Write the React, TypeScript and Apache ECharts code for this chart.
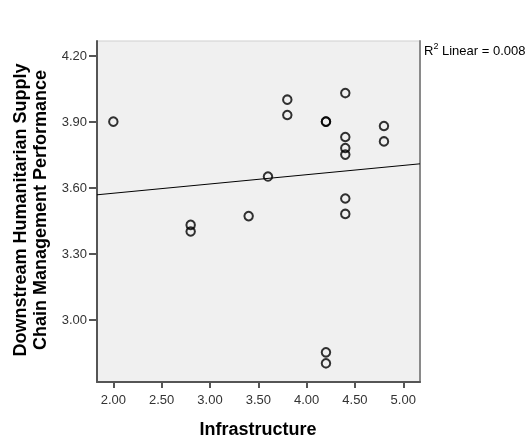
import React, { useEffect, useRef } from "react";
import * as echarts from "echarts";

// Data
const infrastructure = [2.0, 2.8, 2.8, 3.4, 3.6, 3.8, 3.8, 4.2, 4.2, 4.4, 4.4, 4.4, 4.4, 4.4, 4.4, 4.8, 4.8, 4.2, 4.2];
const performance = [3.9, 3.43, 3.4, 3.47, 3.65, 4.0, 3.93, 3.9, 3.9, 4.03, 3.83, 3.78, 3.75, 3.55, 3.48, 3.88, 3.81, 2.85, 2.8];

// Linear fit line (end points at the axis limits)
const fitX = [1.831, 5.173];
const fitY = [3.567, 3.708];

const xTicks = [2.0, 2.5, 3.0, 3.5, 4.0, 4.5, 5.0];
const yTicks = [3.0, 3.3, 3.6, 3.9, 4.2];

const xRange = [1.831, 5.173];
const yRange = [2.715, 4.267];

const xTitle = "Infrastructure";
const yTitleLines = ["Downstream Humanitarian Supply", "Chain Management Performance"];
const fitLabel = "0.008";

const FONT = "'Liberation Sans', Arial, sans-serif";

export default function App() {
  const ref = useRef<HTMLDivElement>(null);

  useEffect(() => {
    if (!ref.current) return;
    const chart = echarts.init(ref.current, null, { renderer: "svg" });

    const points = infrastructure.map((x, i) => [x, performance[i]]);
    const fit = fitX.map((x, i) => [x, fitY[i]]);

    chart.setOption({
      animation: false,
      textStyle: { fontFamily: FONT },
      grid: {
        left: 97,
        right: 112,
        top: 41,
        bottom: 62,
        show: true,
        backgroundColor: "#f0f0f0",
        borderColor: "#cfcfcf",
        borderWidth: 1,
      },
      xAxis: {
        type: "value",
        min: xRange[0],
        max: xRange[1],
        axisLine: { show: true, onZero: false, lineStyle: { color: "#555", width: 2 } },
        axisTick: { show: true, customValues: xTicks, length: 6, lineStyle: { color: "#555", width: 2 } },
        axisLabel: {
          customValues: xTicks,
          formatter: (v: number) => v.toFixed(2),
          color: "#333",
          fontSize: 13,
          fontFamily: FONT,
          margin: 11,
        },
        splitLine: { show: false },
      },
      yAxis: [
        {
          type: "value",
          min: yRange[0],
          max: yRange[1],
          axisLine: { show: true, onZero: false, lineStyle: { color: "#555", width: 2 } },
          axisTick: { show: true, customValues: yTicks, length: 8, lineStyle: { color: "#555", width: 2 } },
          axisLabel: {
            customValues: yTicks,
            formatter: (v: number) => v.toFixed(2),
            color: "#333",
            fontSize: 13,
            fontFamily: FONT,
            margin: 10,
          },
          splitLine: { show: false },
        },
        {
          type: "value",
          position: "right",
          min: yRange[0],
          max: yRange[1],
          axisLine: { show: true, onZero: false, lineStyle: { color: "#8a8a8a", width: 2 } },
          axisTick: { show: false },
          axisLabel: { show: false },
          splitLine: { show: false },
        },
      ],
      series: [
        {
          type: "line",
          data: fit,
          symbol: "none",
          lineStyle: { color: "#000", width: 1 },
          silent: true,
          z: 2,
        },
        {
          type: "scatter",
          data: points,
          symbol: "circle",
          symbolSize: 8.5,
          itemStyle: { color: "rgba(0,0,0,0)", borderColor: "#000", borderWidth: 2 },
          z: 3,
        },
      ],
      graphic: [
        {
          type: "text",
          x: 258,
          y: 429,
          style: {
            text: xTitle,
            font: `bold 18px ${FONT}`,
            fill: "#000",
            align: "center",
            verticalAlign: "middle",
          },
        },
        {
          type: "text",
          x: 29.5,
          y: 210,
          rotation: Math.PI / 2,
          style: {
            text: yTitleLines.join("\n"),
            font: `bold 18px ${FONT}`,
            lineHeight: 20,
            fill: "#000",
            align: "center",
            verticalAlign: "middle",
          },
        },
        {
          type: "text",
          x: 424,
          y: 41,
          style: {
            text: `{a|R}{s|2}{a| Linear = ${fitLabel}}`,
            fontFamily: FONT,
            rich: {
              a: { fontSize: 13, fill: "#000", lineHeight: 16, verticalAlign: "bottom" },
              s: { fontSize: 9, fill: "#000", lineHeight: 16, verticalAlign: "top" },
            },
          },
        },
      ],
    });

    return () => chart.dispose();
  }, []);

  return (
    <div
      ref={ref}
      style={{ position: "fixed", left: 0, top: 0, width: 532, height: 444 }}
    />
  );
}
